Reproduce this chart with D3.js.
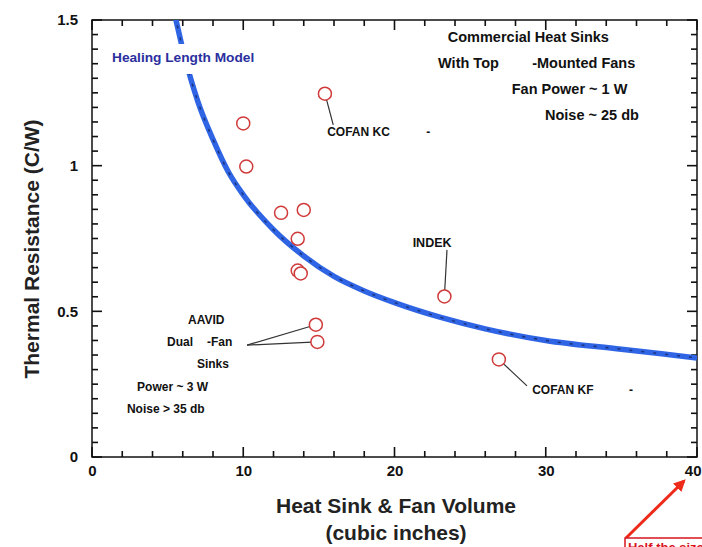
<!DOCTYPE html>
<html>
<head>
<meta charset="utf-8">
<script src="https://cdn.jsdelivr.net/npm/d3@7"></script>
<style>
  body { margin: 0; background: #fff; }
  text { font-family: Arial, "Liberation Sans", sans-serif; font-weight: bold; }
</style>
</head>
<body>
<div id="chart"></div>
<script>
// data
const sinkVolume = [15.4, 10.0, 10.2, 12.5, 14.0, 13.6, 13.6, 13.8, 23.3, 26.9, 14.8, 14.9];
const sinkResistance = [1.247, 1.145, 0.997, 0.838, 0.848, 0.749, 0.640, 0.630, 0.551, 0.335, 0.454, 0.395];

// healing length model curve
const modelVolume = [5.0, 5.5, 6, 7, 8, 9, 10, 12, 14, 16, 18, 20, 23, 26, 30, 35, 40];
const modelResistance = [1.60, 1.51, 1.40, 1.22, 1.09, 0.98, 0.90, 0.78, 0.69, 0.62, 0.57, 0.53, 0.48, 0.44, 0.40, 0.37, 0.34];

const xMajorTicks = [0, 10, 20, 30, 40];
const xMinorTicks = [2, 4, 6, 8, 12, 14, 16, 18, 22, 24, 26, 28, 32, 34, 36, 38];
const yMajorTicks = [0, 0.5, 1, 1.5];
const yTickLabels = ["0", "0.5", "1", "1.5"];

const width = 702, height = 547;
const margin = {top: 20, right: 5, bottom: 90, left: 92};

const svg = d3.select("#chart").append("svg")
  .attr("width", width)
  .attr("height", height);

svg.append("rect").attr("width", width).attr("height", height).attr("fill", "#fff");

const x = d3.scaleLinear().domain([0, 40]).range([margin.left, width - margin.right]);
const y = d3.scaleLinear().domain([0, 1.5]).range([height - margin.bottom, margin.top]);

// y minor ticks every 0.05 (skipping majors)
const yMinorTicks = d3.range(1, 30).filter(i => i % 10 !== 0).map(i => i * 0.05);

// frame
svg.append("rect")
  .attr("x", x(0)).attr("y", y(1.5))
  .attr("width", x(40) - x(0)).attr("height", y(0) - y(1.5))
  .attr("fill", "none").attr("stroke", "#111").attr("stroke-width", 1.5);

// inward ticks on all four sides, drawn as thin filled rects
const xTicks = xMajorTicks.map(v => ({v: v, len: 10})).concat(xMinorTicks.map(v => ({v: v, len: 6})));
const yTicks = yMajorTicks.map(v => ({v: v, len: 10})).concat(yMinorTicks.map(v => ({v: v, len: 6})));
const tickG = svg.append("g").attr("fill", "#111");

tickG.selectAll("rect.xb").data(xTicks).enter().append("rect")
  .attr("class", "xb")
  .attr("x", d => x(d.v) - 0.8).attr("width", 1.6)
  .attr("y", d => y(0) - d.len).attr("height", d => d.len);
tickG.selectAll("rect.xt").data(xTicks).enter().append("rect")
  .attr("class", "xt")
  .attr("x", d => x(d.v) - 0.8).attr("width", 1.6)
  .attr("y", y(1.5)).attr("height", d => d.len);
tickG.selectAll("rect.yl").data(yTicks).enter().append("rect")
  .attr("class", "yl")
  .attr("y", d => y(d.v) - 0.8).attr("height", 1.6)
  .attr("x", x(0)).attr("width", d => d.len);
tickG.selectAll("rect.yr").data(yTicks).enter().append("rect")
  .attr("class", "yr")
  .attr("y", d => y(d.v) - 0.8).attr("height", 1.6)
  .attr("x", d => x(40) - d.len).attr("width", d => d.len);

// tick labels through the axis generators
const xAxis = svg.append("g").attr("transform", `translate(0,${y(0)})`)
  .call(d3.axisBottom(x).tickValues(xMajorTicks).tickSize(0).tickPadding(8).tickFormat(d3.format("d")));
xAxis.select(".domain").remove();
xAxis.selectAll("line").remove();
xAxis.selectAll("text").attr("font-size", "15px").attr("fill", "#111")
  .attr("text-anchor", d => d === 40 ? "end" : "middle")
  .attr("dx", d => d === 40 ? "4px" : 0);

const yAxis = svg.append("g").attr("transform", `translate(${x(0)},0)`)
  .call(d3.axisLeft(y).tickValues(yMajorTicks).tickSize(0).tickPadding(14)
    .tickFormat((d, i) => yTickLabels[i]));
yAxis.select(".domain").remove();
yAxis.selectAll("line").remove();
yAxis.selectAll("text").attr("font-size", "15px").attr("fill", "#111");

// axis titles
svg.append("text")
  .attr("transform", "translate(39,249) rotate(-90)")
  .attr("text-anchor", "middle")
  .attr("font-size", "21px").attr("fill", "#222")
  .text("Thermal Resistance (C/W)");
svg.append("text")
  .attr("x", 396).attr("y", 513)
  .attr("text-anchor", "middle").attr("font-size", "21px").attr("fill", "#222")
  .text("Heat Sink & Fan Volume");
svg.append("text")
  .attr("x", 396).attr("y", 540)
  .attr("text-anchor", "middle").attr("font-size", "21px").attr("fill", "#222")
  .text("(cubic inches)");

// model curve
svg.append("clipPath").attr("id", "plot-clip")
  .append("rect").attr("x", x(0)).attr("y", y(1.5))
  .attr("width", x(40) - x(0)).attr("height", y(0) - y(1.5));

const modelData = modelVolume.map((v, i) => ({v: v, r: modelResistance[i]}));
const line = d3.line().x(d => x(d.v)).y(d => y(d.r)).curve(d3.curveMonotoneX);

const curveG = svg.append("g").attr("clip-path", "url(#plot-clip)");
curveG.append("path").datum(modelData)
  .attr("d", line).attr("fill", "none")
  .attr("stroke", "#2f64e4").attr("stroke-width", 5.5);
curveG.append("path").datum(modelData)
  .attr("d", line).attr("fill", "none")
  .attr("stroke", "#14245a").attr("stroke-width", 1.4)
  .attr("stroke-dasharray", "3,9").attr("opacity", 0.8);

// label box breaking the curve
svg.append("rect")
  .attr("x", 106).attr("y", 44).attr("width", 156).attr("height", 30)
  .attr("fill", "#fff");
svg.append("text")
  .attr("x", 112).attr("y", 62)
  .attr("font-size", "13.7px").attr("fill", "#2b2f9e")
  .text("Healing Length Model");

// leader lines: [volume, resistance] pairs
const leaders = [
  [[15.4, 1.247], [15.95, 1.14]],
  [[23.3, 0.551], [23.47, 0.711]],
  [[26.9, 0.335], [28.76, 0.244]],
  [[14.8, 0.454], [10.25, 0.384]],
  [[14.9, 0.395], [10.25, 0.384]]
];
svg.selectAll(".leader").data(leaders).enter().append("line")
  .attr("class", "leader")
  .attr("x1", d => x(d[0][0])).attr("y1", d => y(d[0][1]))
  .attr("x2", d => x(d[1][0])).attr("y2", d => y(d[1][1]))
  .attr("stroke", "#333").attr("stroke-width", 1.2);

// heat sink points
const points = sinkVolume.map((v, i) => ({v: v, r: sinkResistance[i]}));
svg.selectAll(".pt").data(points).enter().append("circle")
  .attr("class", "pt")
  .attr("cx", d => x(d.v)).attr("cy", d => y(d.r))
  .attr("r", 6.5)
  .attr("fill", "#fff")
  .attr("stroke", "#d03a3a").attr("stroke-width", 1.5);

// text annotations (positions in data units)
const notes = [
  {t: "Commercial Heat Sinks", v: 28.85, r: 1.442, s: 14.5, a: "middle"},
  {t: "With Top", v: 22.88, r: 1.352, s: 14.5, a: "start"},
  {t: "-Mounted Fans", v: 29.1, r: 1.352, s: 14.5, a: "start"},
  {t: "Fan Power ~ 1 W", v: 27.75, r: 1.263, s: 14.5, a: "start"},
  {t: "Noise ~ 25 db", v: 29.95, r: 1.174, s: 14.5, a: "start"},
  {t: "COFAN KC", v: 15.55, r: 1.116, s: 12, a: "start"},
  {t: "-", v: 22.1, r: 1.116, s: 12, a: "start"},
  {t: "INDEK", v: 21.2, r: 0.735, s: 12.5, a: "start"},
  {t: "COFAN KF", v: 29.1, r: 0.23, s: 12, a: "start"},
  {t: "-", v: 35.5, r: 0.23, s: 12, a: "start"},
  {t: "AAVID", v: 6.35, r: 0.47, s: 12, a: "start"},
  {t: "Dual", v: 4.96, r: 0.395, s: 12, a: "start"},
  {t: "-Fan", v: 7.6, r: 0.395, s: 12, a: "start"},
  {t: "Sinks", v: 6.94, r: 0.319, s: 12, a: "start"},
  {t: "Power ~ 3 W", v: 2.98, r: 0.24, s: 12, a: "start"},
  {t: "Noise > 35 db", v: 2.31, r: 0.165, s: 12, a: "start"}
];
svg.selectAll(".note").data(notes).enter().append("text")
  .attr("class", "note")
  .attr("x", d => x(d.v)).attr("y", d => y(d.r))
  .attr("dy", "0.35em")
  .attr("text-anchor", d => d.a)
  .attr("font-size", d => d.s + "px")
  .attr("fill", "#111")
  .text(d => d.t);

// red callout in the corner
svg.append("defs").append("marker")
  .attr("id", "arrow").attr("viewBox", "0 0 10 10")
  .attr("refX", 8).attr("refY", 5)
  .attr("markerWidth", 4).attr("markerHeight", 4)
  .attr("orient", "auto")
  .append("path").attr("d", "M0,0L10,5L0,10z").attr("fill", "#ee2a1a");
svg.append("line")
  .attr("x1", 626).attr("y1", 538).attr("x2", 684).attr("y2", 481)
  .attr("stroke", "#ee2a1a").attr("stroke-width", 3)
  .attr("marker-end", "url(#arrow)");
svg.append("rect")
  .attr("x", 625).attr("y", 538).attr("width", 110).attr("height", 30)
  .attr("fill", "#fff").attr("stroke", "#d8141e").attr("stroke-width", 1.5);
svg.append("text")
  .attr("x", 628).attr("y", 552)
  .attr("font-size", "13px").attr("fill", "#d8141e")
  .text("Half the size");
</script>
</body>
</html>
